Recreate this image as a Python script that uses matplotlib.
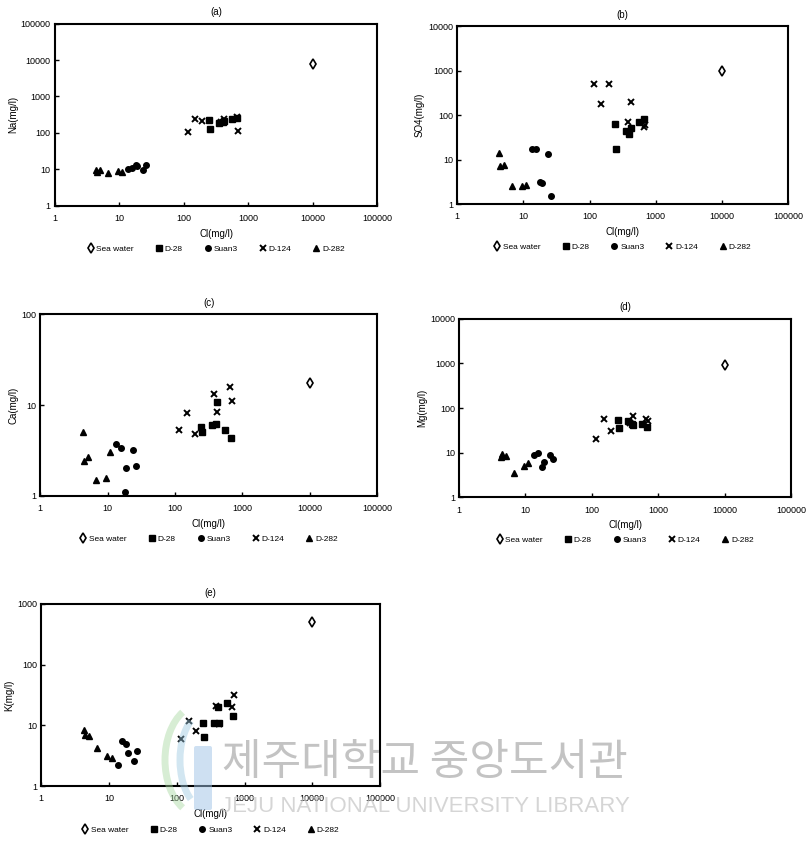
import numpy as np
import matplotlib.pyplot as plt
from matplotlib.ticker import FixedLocator, FixedFormatter, NullLocator
from matplotlib.patches import FancyBboxPatch, Arc

plt.rcParams['font.family'] = ['Liberation Sans', 'DejaVu Sans']

# chloride of each sample group (mg/l)
cl_sea = [10000]
cl_d28 = [245, 255, 350, 400, 420, 560, 670]
cl_suan3 = [13.5, 15.5, 18, 19, 23.5, 26]
cl_d124 = [115, 150, 195, 380, 420, 660, 700]
cl_d282 = [4.3, 4.5, 5.1, 6.7, 9.5, 11]

# (a) Na
na_sea = [8000]
na_d28 = [230, 130, 190, 205, 215, 235, 255]
na_suan3 = [10.0, 11.0, 13.5, 12.0, 9.5, 13.0]
na_d124 = [105, 235, 215, 200, 235, 280, 115]
na_d282 = [9.5, 8.5, 9.5, 8.0, 9.0, 8.5]

# (b) SO4
so4_sea = [1000]
so4_d28 = [62, 17, 44, 38, 50, 70, 82]
so4_suan3 = [17, 17, 3.2, 3.0, 13, 1.5]
so4_d124 = [500, 175, 500, 70, 200, 55, 60]
so4_d282 = [14, 7.0, 7.5, 2.5, 2.6, 2.7]

# (c) Ca
ca_sea = [17.6]
ca_d28 = [5.8, 5.1, 6.0, 6.2, 10.7, 5.3, 4.3]
ca_suan3 = [3.7, 3.4, 1.1, 2.0, 3.2, 2.15]
ca_d124 = [5.3, 8.2, 4.8, 13.3, 8.3, 15.7, 11.2]
ca_d282 = [5.0, 2.4, 2.7, 1.5, 1.55, 3.0]

# (d) Mg
mg_sea = [900]
mg_d28 = [55, 36, 50, 45, 42, 44, 38]
mg_suan3 = [8.7, 10.0, 4.8, 6.3, 8.8, 7.2]
mg_d124 = [20, 57, 31, 47, 65, 58, 50]
mg_d282 = [8.2, 9.5, 8.5, 3.6, 5.0, 6.0]

# (e) K
k_sea = [500]
k_d28 = [11, 6.5, 11, 20, 11, 23, 14]
k_suan3 = [2.2, 5.5, 5.0, 3.5, 2.6, 3.8]
k_d124 = [6.0, 12, 8.0, 21, 10.5, 20, 31]
k_d282 = [8.5, 6.8, 6.6, 4.2, 3.1, 2.9]

labels = ['Sea water', 'D-28', 'Suan3', 'D-124', 'D-282']
xticks = [1, 10, 100, 1000, 10000, 100000]

fig = plt.figure(figsize=(8.06, 8.43), dpi=100)


def panel(rect, title, ylabel, ymax, sea, d28, suan3, d124, d282):
    ax = fig.add_axes(rect)
    ax.set_xscale('log')
    ax.set_yscale('log')
    ax.plot(cl_sea, sea, ls='none', marker='d', mfc='white', mec='black', mew=1.2, ms=5.5, label=labels[0])
    ax.plot(cl_d28, d28, ls='none', marker='s', color='black', ms=4, label=labels[1])
    ax.plot(cl_suan3, suan3, ls='none', marker='o', color='black', ms=4, label=labels[2])
    ax.plot(cl_d124, d124, ls='none', marker='x', color='black', mew=1.4, ms=4.5, label=labels[3])
    ax.plot(cl_d282, d282, ls='none', marker='^', color='black', ms=4, label=labels[4])
    ax.set_xlim(1, 100000)
    ax.set_ylim(1, ymax)
    yt = [10 ** i for i in range(int(round(np.log10(ymax))) + 1)]
    ax.xaxis.set_major_locator(FixedLocator(xticks))
    ax.xaxis.set_major_formatter(FixedFormatter([str(v) for v in xticks]))
    ax.yaxis.set_major_locator(FixedLocator(yt))
    ax.yaxis.set_major_formatter(FixedFormatter([str(v) for v in yt]))
    ax.xaxis.set_minor_locator(NullLocator())
    ax.yaxis.set_minor_locator(NullLocator())
    ax.tick_params(direction='in', length=3, width=1, labelsize=6.5)
    ax.tick_params(axis='x', pad=6)
    ax.tick_params(axis='y', pad=3)
    for s in ax.spines.values():
        s.set_linewidth(1.5)
    ax.set_title(title, fontsize=7, pad=6)
    ax.set_xlabel('Cl(mg/l)', fontsize=7, labelpad=4)
    ax.set_ylabel(ylabel, fontsize=7, labelpad=2)
    ax.legend(loc='upper center', bbox_to_anchor=(0.5, -0.2), ncol=5, frameon=False,
              fontsize=6, handlelength=0.8, handletextpad=0.3, columnspacing=2.6,
              borderaxespad=0)
    return ax


panel([0.068, 0.756, 0.400, 0.216], '(a)', 'Na(mg/l)', 100000, na_sea, na_d28, na_suan3, na_d124, na_d282)
panel([0.567, 0.758, 0.411, 0.211], '(b)', 'SO4(mg/l)', 10000, so4_sea, so4_d28, so4_suan3, so4_d124, so4_d282)
panel([0.050, 0.412, 0.418, 0.215], '(c)', 'Ca(mg/l)', 100, ca_sea, ca_d28, ca_suan3, ca_d124, ca_d282)
panel([0.5695, 0.410, 0.412, 0.212], '(d)', 'Mg(mg/l)', 10000, mg_sea, mg_d28, mg_suan3, mg_d124, mg_d282)
panel([0.051, 0.0676, 0.4206, 0.216], '(e)', 'K(mg/l)', 1000, k_sea, k_d28, k_suan3, k_d124, k_d282)

# library watermark
wm = fig.add_axes([0, 0, 1, 1], facecolor='none')
wm.set_xlim(0, 806)
wm.set_ylim(843, 0)
wm.axis('off')
wm.add_patch(FancyBboxPatch((196, 748), 14, 60, boxstyle='round,pad=2',
                            fc='#9fc3e6', ec='none', alpha=0.5))
wm.add_patch(Arc((200, 760), 70, 110, theta1=110, theta2=250, color='#a8d8a0', lw=5, alpha=0.45))
wm.add_patch(Arc((205, 760), 50, 95, theta1=110, theta2=250, color='#9cc8e0', lw=5, alpha=0.45))
wm.text(425, 763, '제주대학교 중앙도서관', family=['Noto Sans CJK KR', 'DejaVu Sans'],
        fontsize=31, color='#b4b4b4', alpha=0.8, ha='center', va='center')
wm.text(425, 806, 'JEJU NATIONAL UNIVERSITY LIBRARY', family=['Liberation Sans', 'DejaVu Sans'],
        fontsize=16, color='#c8c8c8', alpha=0.75, ha='center', va='center')

fig.savefig('out.png', dpi=100)
